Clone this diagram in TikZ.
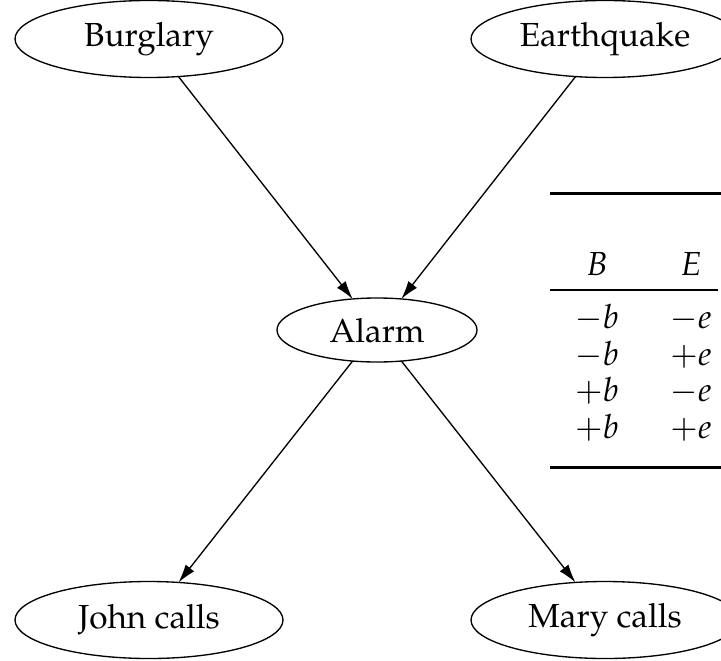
\documentclass[tikz,border=0pt]{standalone}
\usepackage[T1]{fontenc}
\usepackage{mathpazo}
\usetikzlibrary{shapes.geometric,arrows.meta}
\begin{document}
\begin{tikzpicture}[x=0.3pt,y=-0.3pt,
  bnode/.style={ellipse,draw,line width=0.4pt,inner sep=0pt,outer sep=0pt,
                minimum width=80.4pt,minimum height=23.1pt},
  anode/.style={bnode,minimum width=60pt,minimum height=19.2pt},
  edge/.style={line width=0.4pt,-{Latex[length=5.5pt,width=3.3pt]}},
  cell/.style={anchor=base,inner sep=0pt},
  heavy/.style={line width=0.9pt},
  light/.style={line width=0.5pt}]
\useasboundingbox (0,0) rectangle (721,660);
\clip (0,0) rectangle (721,660);
% network
\node[bnode] (B) at (149,39) {Burglary};
\node[bnode] (E) at (605,39) {Earthquake};
\node[anode] (A) at (377,330) {Alarm};
\node[bnode] (J) at (149,620) {John calls};
\node[bnode] (M) at (605,620) {Mary calls};
\draw[edge] (B) -- (A);
\draw[edge] (E) -- (A);
\draw[edge] (A) -- (J);
\draw[edge] (A) -- (M);
% table
\draw[heavy] (550,194) -- (730,194);
\node[cell] (hB) at (597,275) {$B$};
\node[cell] (hE) at (691,275) {$E$};
\draw[light] (550,290) -- (718,290);
\node[cell] (r1b) at (597,328) {$-b$};
\node[cell] (r1e) at (691,328) {$-e$};
\node[cell] (r2b) at (597,365) {$-b$};
\node[cell] (r2e) at (691,365) {$+e$};
\node[cell] (r3b) at (597,401) {$+b$};
\node[cell] (r3e) at (691,401) {$-e$};
\node[cell] (r4b) at (597,438) {$+b$};
\node[cell] (r4e) at (691,438) {$+e$};
\draw[heavy] (550,467) -- (730,467);
\end{tikzpicture}
\end{document}
